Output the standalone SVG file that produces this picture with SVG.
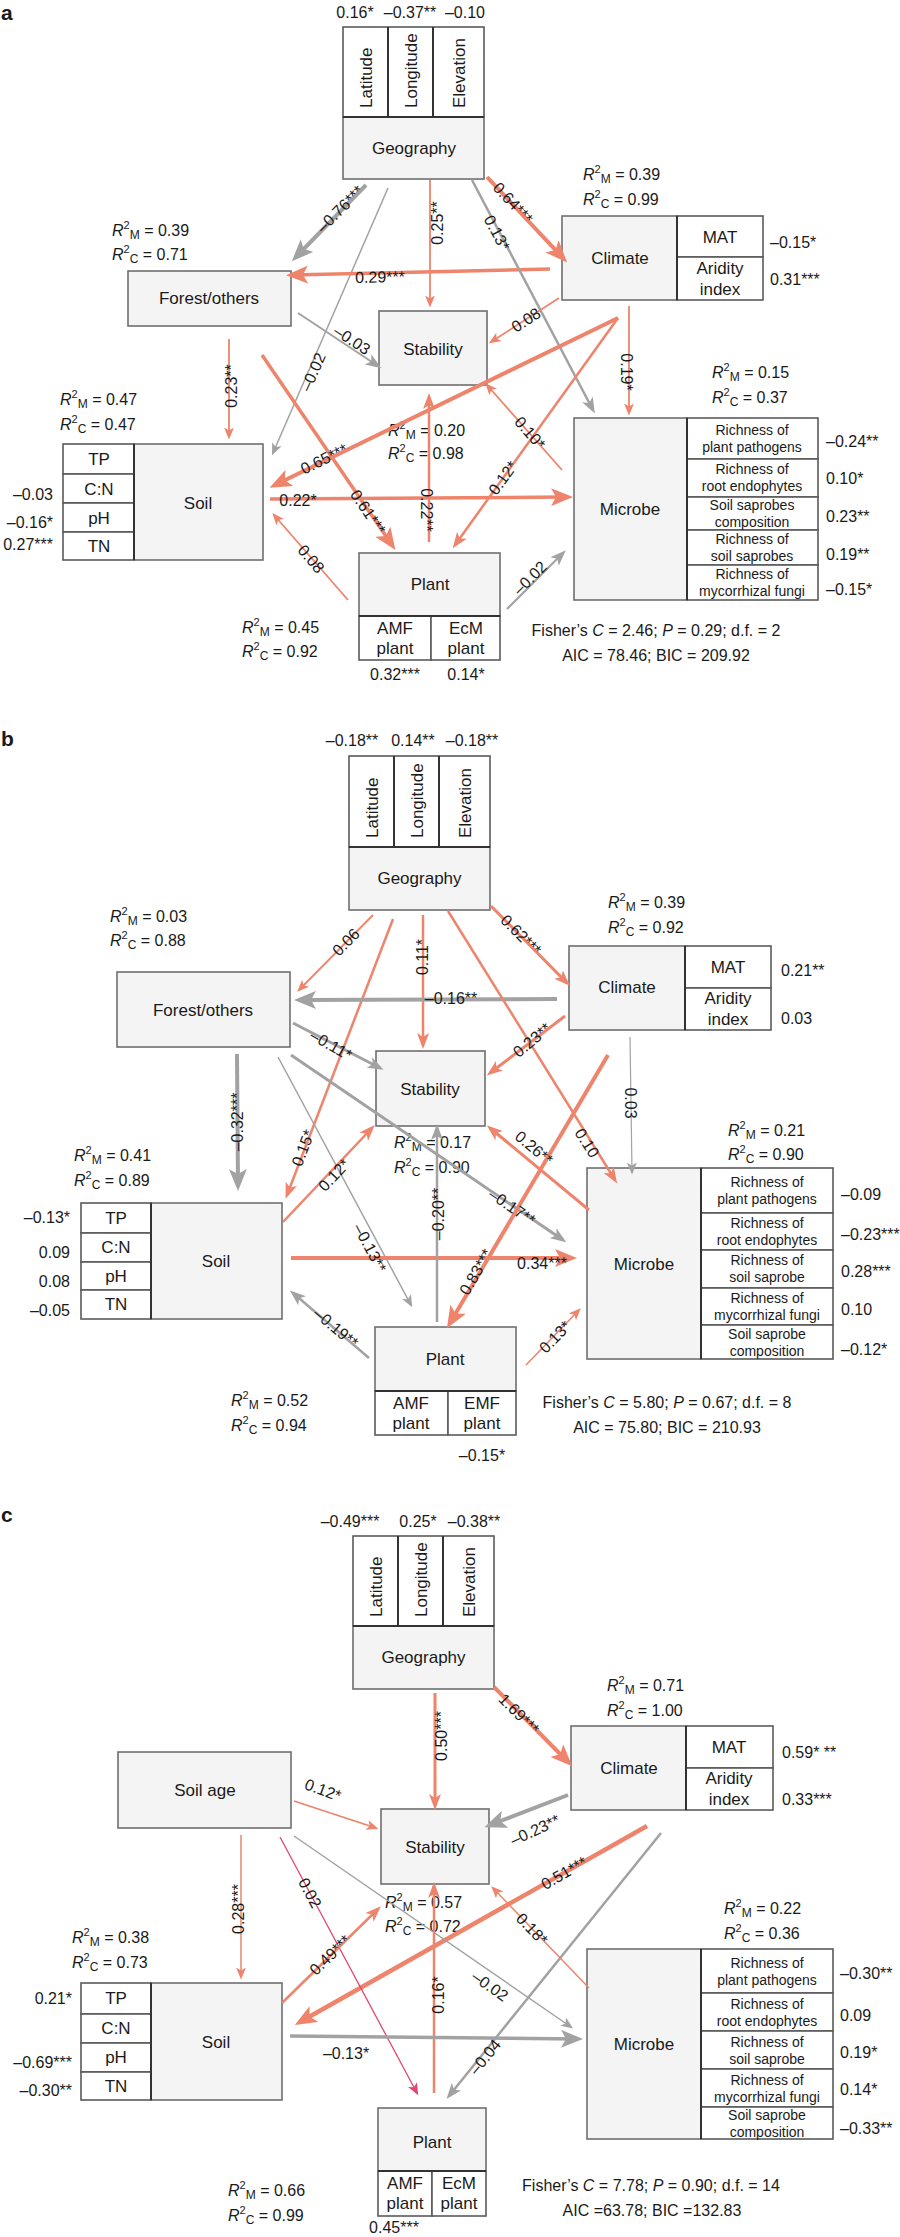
<svg xmlns="http://www.w3.org/2000/svg" width="900" height="2237" viewBox="0 0 900 2237">
<style>
text{font-family:"Liberation Sans",Arial,Helvetica,sans-serif;fill:#1a1a1a}
.n{font-size:17px;text-anchor:middle}
.v{font-size:16px}
.m{text-anchor:middle}
.e{text-anchor:end}
.s{font-size:14px;text-anchor:middle}
.q{font-size:16px}
.el{font-size:16px;text-anchor:middle}
.pl{font-size:21px;font-weight:bold}
.bx{fill:#f4f4f4;stroke:#6f6f6f;stroke-width:1.6}
.sb{fill:#fff;stroke:#5a5a5a;stroke-width:1.6}
.dv{stroke:#333;stroke-width:2;fill:none}
.r{stroke:#ee846b;fill:none}
.g{stroke:#a2a2a2;fill:none}
.p{stroke:#e2456e;fill:none}
.w1{stroke-width:1.5}
.w2{stroke-width:2.5}
.w3{stroke-width:4}
</style>
<defs>
<marker id="ra1" markerUnits="userSpaceOnUse" markerWidth="12" markerHeight="10" refX="9.5" refY="5" orient="auto"><path d="M0,0 L12,5 L0,10 L3,5 Z" fill="#ee846b"/></marker>
<marker id="ra2" markerUnits="userSpaceOnUse" markerWidth="16" markerHeight="12" refX="12" refY="6" orient="auto"><path d="M0,0 L16,6 L0,12 L4,6 Z" fill="#ee846b"/></marker>
<marker id="ra3" markerUnits="userSpaceOnUse" markerWidth="22" markerHeight="18" refX="16" refY="9" orient="auto"><path d="M0,0 L22,9 L0,18 L5,9 Z" fill="#ee846b"/></marker>
<marker id="ga1" markerUnits="userSpaceOnUse" markerWidth="12" markerHeight="10" refX="9.5" refY="5" orient="auto"><path d="M0,0 L12,5 L0,10 L3,5 Z" fill="#a2a2a2"/></marker>
<marker id="ga2" markerUnits="userSpaceOnUse" markerWidth="16" markerHeight="12" refX="12" refY="6" orient="auto"><path d="M0,0 L16,6 L0,12 L4,6 Z" fill="#a2a2a2"/></marker>
<marker id="ga3" markerUnits="userSpaceOnUse" markerWidth="22" markerHeight="18" refX="16" refY="9" orient="auto"><path d="M0,0 L22,9 L0,18 L5,9 Z" fill="#a2a2a2"/></marker>
<marker id="pa1" markerUnits="userSpaceOnUse" markerWidth="12" markerHeight="10" refX="9.5" refY="5" orient="auto"><path d="M0,0 L12,5 L0,10 L3,5 Z" fill="#e2456e"/></marker>
</defs>
<rect width="900" height="2237" fill="#fff"/>

<text class="pl" x="1" y="20">a</text>
<text class="pl" x="1" y="746">b</text>
<text class="pl" x="1" y="1522">c</text>

<!-- ================= PANEL A NODES ================= -->
<g id="a-geography">
<rect class="sb" x="343" y="27" width="141" height="90"/>
<line class="dv" x1="388" y1="27" x2="388" y2="117"/><line class="dv" x1="433" y1="27" x2="433" y2="117"/>
<rect class="bx" x="343" y="117" width="141" height="62"/>
<line class="dv" x1="343" y1="117" x2="484" y2="117"/>
<text class="n" style="text-anchor:start" transform="translate(366,108) rotate(-90)" y="6">Latitude</text>
<text class="n" style="text-anchor:start" transform="translate(411,108) rotate(-90)" y="6">Longitude</text>
<text class="n" style="text-anchor:start" transform="translate(459,108) rotate(-90)" y="6">Elevation</text>
<text class="n" x="414" y="154">Geography</text>
<text class="v m" x="355" y="18">0.16*</text>
<text class="v m" x="410" y="18">–0.37**</text>
<text class="v m" x="465" y="18">–0.10</text>
</g>
<g id="a-forest">
<rect class="bx" x="128" y="271" width="163" height="55"/>
<text class="n" x="209" y="304">Forest/others</text>
<text class="q" x="112" y="236"><tspan font-style="italic">R</tspan><tspan font-size="11" dy="-7">2</tspan><tspan font-size="12" dy="10">M</tspan><tspan dy="-3"> = 0.39</tspan></text>
<text class="q" x="112" y="260"><tspan font-style="italic">R</tspan><tspan font-size="11" dy="-7">2</tspan><tspan font-size="12" dy="10">C</tspan><tspan dy="-3"> = 0.71</tspan></text>
</g>
<g id="a-stability">
<rect class="bx" x="379" y="311" width="108" height="74"/>
<text class="n" x="433" y="355">Stability</text>
<text class="q" x="388" y="436"><tspan font-style="italic">R</tspan><tspan font-size="11" dy="-7">2</tspan><tspan font-size="12" dy="10">M</tspan><tspan dy="-3"> = 0.20</tspan></text>
<text class="q" x="388" y="459"><tspan font-style="italic">R</tspan><tspan font-size="11" dy="-7">2</tspan><tspan font-size="12" dy="10">C</tspan><tspan dy="-3"> = 0.98</tspan></text>
</g>
<g id="a-climate">
<rect class="bx" x="562" y="216" width="115" height="84"/>
<rect class="sb" x="677" y="216" width="86" height="41"/>
<rect class="sb" x="677" y="257" width="86" height="43"/>
<line class="dv" x1="677" y1="216" x2="677" y2="300"/>
<text class="n" x="620" y="264">Climate</text>
<text class="n" x="720" y="243">MAT</text>
<text class="n" x="720" y="274">Aridity</text>
<text class="n" x="720" y="295">index</text>
<text class="v" x="770" y="248">–0.15*</text>
<text class="v" x="770" y="285">0.31***</text>
<text class="q" x="583" y="180"><tspan font-style="italic">R</tspan><tspan font-size="11" dy="-7">2</tspan><tspan font-size="12" dy="10">M</tspan><tspan dy="-3"> = 0.39</tspan></text>
<text class="q" x="583" y="205"><tspan font-style="italic">R</tspan><tspan font-size="11" dy="-7">2</tspan><tspan font-size="12" dy="10">C</tspan><tspan dy="-3"> = 0.99</tspan></text>
</g>
<g id="a-microbe">
<rect class="bx" x="574" y="418" width="113" height="182"/>
<rect class="sb" x="687" y="418" width="131" height="41"/>
<rect class="sb" x="687" y="459" width="131" height="38"/>
<rect class="sb" x="687" y="497" width="131" height="33"/>
<rect class="sb" x="687" y="530" width="131" height="35"/>
<rect class="sb" x="687" y="565" width="131" height="35"/>
<line class="dv" x1="687" y1="418" x2="687" y2="600"/>
<text class="n" x="630" y="515">Microbe</text>
<text class="s" x="752" y="435">Richness of</text><text class="s" x="752" y="452">plant pathogens</text>
<text class="s" x="752" y="474">Richness of</text><text class="s" x="752" y="491">root endophytes</text>
<text class="s" x="752" y="510">Soil saprobes</text><text class="s" x="752" y="527">composition</text>
<text class="s" x="752" y="544">Richness of</text><text class="s" x="752" y="561">soil saprobes</text>
<text class="s" x="752" y="579">Richness of</text><text class="s" x="752" y="596">mycorrhizal fungi</text>
<text class="v" x="826" y="447">–0.24**</text>
<text class="v" x="826" y="484">0.10*</text>
<text class="v" x="826" y="522">0.23**</text>
<text class="v" x="826" y="560">0.19**</text>
<text class="v" x="826" y="595">–0.15*</text>
<text class="q" x="712" y="378"><tspan font-style="italic">R</tspan><tspan font-size="11" dy="-7">2</tspan><tspan font-size="12" dy="10">M</tspan><tspan dy="-3"> = 0.15</tspan></text>
<text class="q" x="712" y="403"><tspan font-style="italic">R</tspan><tspan font-size="11" dy="-7">2</tspan><tspan font-size="12" dy="10">C</tspan><tspan dy="-3"> = 0.37</tspan></text>
</g>
<g id="a-soil">
<rect class="bx" x="134" y="444" width="129" height="116"/>
<rect class="sb" x="63" y="444" width="71" height="30"/>
<rect class="sb" x="63" y="474" width="71" height="29"/>
<rect class="sb" x="63" y="503" width="71" height="29"/>
<rect class="sb" x="63" y="532" width="71" height="28"/>
<line class="dv" x1="134" y1="444" x2="134" y2="560"/>
<text class="n" x="198" y="509">Soil</text>
<text class="n" x="99" y="465">TP</text>
<text class="n" x="99" y="495">C:N</text>
<text class="n" x="99" y="524">pH</text>
<text class="n" x="99" y="552">TN</text>
<text class="v e" x="53" y="500">–0.03</text>
<text class="v e" x="53" y="528">–0.16*</text>
<text class="v e" x="53" y="550">0.27***</text>
<text class="q" x="60" y="405"><tspan font-style="italic">R</tspan><tspan font-size="11" dy="-7">2</tspan><tspan font-size="12" dy="10">M</tspan><tspan dy="-3"> = 0.47</tspan></text>
<text class="q" x="60" y="430"><tspan font-style="italic">R</tspan><tspan font-size="11" dy="-7">2</tspan><tspan font-size="12" dy="10">C</tspan><tspan dy="-3"> = 0.47</tspan></text>
</g>
<g id="a-plant">
<rect class="bx" x="359" y="553" width="141" height="63"/>
<rect class="sb" x="359" y="616" width="72" height="44"/>
<rect class="sb" x="431" y="616" width="69" height="44"/>
<line class="dv" x1="359" y1="616" x2="500" y2="616"/>
<text class="n" x="430" y="590">Plant</text>
<text class="n" x="395" y="634">AMF</text><text class="n" x="395" y="654">plant</text>
<text class="n" x="466" y="634">EcM</text><text class="n" x="466" y="654">plant</text>
<text class="v m" x="395" y="680">0.32***</text>
<text class="v m" x="466" y="680">0.14*</text>
<text class="q" x="242" y="633"><tspan font-style="italic">R</tspan><tspan font-size="11" dy="-7">2</tspan><tspan font-size="12" dy="10">M</tspan><tspan dy="-3"> = 0.45</tspan></text>
<text class="q" x="242" y="657"><tspan font-style="italic">R</tspan><tspan font-size="11" dy="-7">2</tspan><tspan font-size="12" dy="10">C</tspan><tspan dy="-3"> = 0.92</tspan></text>
</g>
<g id="a-fit">
<text class="v m" x="656" y="636">Fisher&#8217;s <tspan font-style="italic">C</tspan> = 2.46; <tspan font-style="italic">P</tspan> = 0.29; d.f. = 2</text>
<text class="v m" x="656" y="661">AIC = 78.46; BIC = 209.92</text>
</g>

<!-- ================= PANEL B NODES ================= -->
<g id="b-geography">
<rect class="sb" x="349" y="756" width="141" height="91"/>
<line class="dv" x1="394" y1="756" x2="394" y2="847"/><line class="dv" x1="439" y1="756" x2="439" y2="847"/>
<rect class="bx" x="349" y="847" width="141" height="63"/>
<line class="dv" x1="349" y1="847" x2="490" y2="847"/>
<text class="n" style="text-anchor:start" transform="translate(371.5,838) rotate(-90)" y="6">Latitude</text>
<text class="n" style="text-anchor:start" transform="translate(416.5,838) rotate(-90)" y="6">Longitude</text>
<text class="n" style="text-anchor:start" transform="translate(464.5,838) rotate(-90)" y="6">Elevation</text>
<text class="n" x="419.5" y="884">Geography</text>
<text class="v m" x="352" y="746">–0.18**</text>
<text class="v m" x="413" y="746">0.14**</text>
<text class="v m" x="472" y="746">–0.18**</text>
</g>
<g id="b-forest">
<rect class="bx" x="117" y="972" width="173" height="75"/>
<text class="n" x="203" y="1016">Forest/others</text>
<text class="q" x="110" y="922"><tspan font-style="italic">R</tspan><tspan font-size="11" dy="-7">2</tspan><tspan font-size="12" dy="10">M</tspan><tspan dy="-3"> = 0.03</tspan></text>
<text class="q" x="110" y="946"><tspan font-style="italic">R</tspan><tspan font-size="11" dy="-7">2</tspan><tspan font-size="12" dy="10">C</tspan><tspan dy="-3"> = 0.88</tspan></text>
</g>
<g id="b-stability">
<rect class="bx" x="376" y="1051" width="109" height="75"/>
<text class="n" x="430" y="1095">Stability</text>
<text class="q" x="394" y="1148"><tspan font-style="italic">R</tspan><tspan font-size="11" dy="-7">2</tspan><tspan font-size="12" dy="10">M</tspan><tspan dy="-3"> = 0.17</tspan></text>
<text class="q" x="394" y="1173"><tspan font-style="italic">R</tspan><tspan font-size="11" dy="-7">2</tspan><tspan font-size="12" dy="10">C</tspan><tspan dy="-3"> = 0.90</tspan></text>
</g>
<g id="b-climate">
<rect class="bx" x="569" y="946" width="116" height="84"/>
<rect class="sb" x="685" y="946" width="86" height="42"/>
<rect class="sb" x="685" y="988" width="86" height="42"/>
<line class="dv" x1="685" y1="946" x2="685" y2="1030"/>
<text class="n" x="627" y="993">Climate</text>
<text class="n" x="728" y="973">MAT</text>
<text class="n" x="728" y="1004">Aridity</text>
<text class="n" x="728" y="1025">index</text>
<text class="v" x="781" y="976">0.21**</text>
<text class="v" x="781" y="1024">0.03</text>
<text class="q" x="608" y="908"><tspan font-style="italic">R</tspan><tspan font-size="11" dy="-7">2</tspan><tspan font-size="12" dy="10">M</tspan><tspan dy="-3"> = 0.39</tspan></text>
<text class="q" x="608" y="933"><tspan font-style="italic">R</tspan><tspan font-size="11" dy="-7">2</tspan><tspan font-size="12" dy="10">C</tspan><tspan dy="-3"> = 0.92</tspan></text>
</g>
<g id="b-microbe">
<rect class="bx" x="587" y="1168" width="114" height="191"/>
<rect class="sb" x="701" y="1168" width="132" height="45"/>
<rect class="sb" x="701" y="1213" width="132" height="37"/>
<rect class="sb" x="701" y="1250" width="132" height="38"/>
<rect class="sb" x="701" y="1288" width="132" height="37"/>
<rect class="sb" x="701" y="1325" width="132" height="34"/>
<line class="dv" x1="701" y1="1168" x2="701" y2="1359"/>
<text class="n" x="644" y="1270">Microbe</text>
<text class="s" x="767" y="1187">Richness of</text><text class="s" x="767" y="1204">plant pathogens</text>
<text class="s" x="767" y="1228">Richness of</text><text class="s" x="767" y="1245">root endophytes</text>
<text class="s" x="767" y="1265">Richness of</text><text class="s" x="767" y="1282">soil saprobe</text>
<text class="s" x="767" y="1303">Richness of</text><text class="s" x="767" y="1320">mycorrhizal fungi</text>
<text class="s" x="767" y="1339">Soil saprobe</text><text class="s" x="767" y="1356">composition</text>
<text class="v" x="841" y="1200">–0.09</text>
<text class="v" x="841" y="1240">–0.23***</text>
<text class="v" x="841" y="1277">0.28***</text>
<text class="v" x="841" y="1315">0.10</text>
<text class="v" x="841" y="1355">–0.12*</text>
<text class="q" x="728" y="1136"><tspan font-style="italic">R</tspan><tspan font-size="11" dy="-7">2</tspan><tspan font-size="12" dy="10">M</tspan><tspan dy="-3"> = 0.21</tspan></text>
<text class="q" x="728" y="1160"><tspan font-style="italic">R</tspan><tspan font-size="11" dy="-7">2</tspan><tspan font-size="12" dy="10">C</tspan><tspan dy="-3"> = 0.90</tspan></text>
</g>
<g id="b-soil">
<rect class="bx" x="151" y="1203" width="131" height="116"/>
<rect class="sb" x="81" y="1203" width="70" height="30"/>
<rect class="sb" x="81" y="1233" width="70" height="29"/>
<rect class="sb" x="81" y="1262" width="70" height="28"/>
<rect class="sb" x="81" y="1290" width="70" height="29"/>
<line class="dv" x1="151" y1="1203" x2="151" y2="1319"/>
<text class="n" x="216" y="1267">Soil</text>
<text class="n" x="116" y="1224">TP</text>
<text class="n" x="116" y="1253">C:N</text>
<text class="n" x="116" y="1282">pH</text>
<text class="n" x="116" y="1310">TN</text>
<text class="v e" x="70" y="1223">–0.13*</text>
<text class="v e" x="70" y="1258">0.09</text>
<text class="v e" x="70" y="1287">0.08</text>
<text class="v e" x="70" y="1316">–0.05</text>
<text class="q" x="74" y="1161"><tspan font-style="italic">R</tspan><tspan font-size="11" dy="-7">2</tspan><tspan font-size="12" dy="10">M</tspan><tspan dy="-3"> = 0.41</tspan></text>
<text class="q" x="74" y="1186"><tspan font-style="italic">R</tspan><tspan font-size="11" dy="-7">2</tspan><tspan font-size="12" dy="10">C</tspan><tspan dy="-3"> = 0.89</tspan></text>
</g>
<g id="b-plant">
<rect class="bx" x="375" y="1327" width="141" height="64"/>
<rect class="sb" x="375" y="1391" width="73" height="44"/>
<rect class="sb" x="448" y="1391" width="68" height="44"/>
<line class="dv" x1="375" y1="1391" x2="516" y2="1391"/>
<text class="n" x="445" y="1365">Plant</text>
<text class="n" x="411" y="1409">AMF</text><text class="n" x="411" y="1429">plant</text>
<text class="n" x="482" y="1409">EMF</text><text class="n" x="482" y="1429">plant</text>
<text class="v m" x="482" y="1461">–0.15*</text>
<text class="q" x="231" y="1406"><tspan font-style="italic">R</tspan><tspan font-size="11" dy="-7">2</tspan><tspan font-size="12" dy="10">M</tspan><tspan dy="-3"> = 0.52</tspan></text>
<text class="q" x="231" y="1431"><tspan font-style="italic">R</tspan><tspan font-size="11" dy="-7">2</tspan><tspan font-size="12" dy="10">C</tspan><tspan dy="-3"> = 0.94</tspan></text>
</g>
<g id="b-fit">
<text class="v m" x="667" y="1408">Fisher&#8217;s <tspan font-style="italic">C</tspan> = 5.80; <tspan font-style="italic">P</tspan> = 0.67; d.f. = 8</text>
<text class="v m" x="667" y="1433">AIC = 75.80; BIC = 210.93</text>
</g>

<!-- ================= PANEL C NODES ================= -->
<g id="c-geography">
<rect class="sb" x="353" y="1536" width="141" height="90"/>
<line class="dv" x1="398" y1="1536" x2="398" y2="1626"/><line class="dv" x1="443" y1="1536" x2="443" y2="1626"/>
<rect class="bx" x="353" y="1626" width="141" height="63"/>
<line class="dv" x1="353" y1="1626" x2="494" y2="1626"/>
<text class="n" style="text-anchor:start" transform="translate(375.5,1617) rotate(-90)" y="6">Latitude</text>
<text class="n" style="text-anchor:start" transform="translate(420.5,1617) rotate(-90)" y="6">Longitude</text>
<text class="n" style="text-anchor:start" transform="translate(468.5,1617) rotate(-90)" y="6">Elevation</text>
<text class="n" x="423.5" y="1663">Geography</text>
<text class="v m" x="350" y="1527">–0.49***</text>
<text class="v m" x="418" y="1527">0.25*</text>
<text class="v m" x="474" y="1527">–0.38**</text>
</g>
<g id="c-soilage">
<rect class="bx" x="118" y="1752" width="173" height="76"/>
<text class="n" x="205" y="1796">Soil age</text>
</g>
<g id="c-stability">
<rect class="bx" x="381" y="1809" width="108" height="75"/>
<text class="n" x="435" y="1853">Stability</text>
<text class="q" x="385" y="1908"><tspan font-style="italic">R</tspan><tspan font-size="11" dy="-7">2</tspan><tspan font-size="12" dy="10">M</tspan><tspan dy="-3"> = 0.57</tspan></text>
<text class="q" x="385" y="1932"><tspan font-style="italic">R</tspan><tspan font-size="11" dy="-7">2</tspan><tspan font-size="12" dy="10">C</tspan><tspan dy="-3"> = 0.72</tspan></text>
</g>
<g id="c-climate">
<rect class="bx" x="571" y="1726" width="115" height="84"/>
<rect class="sb" x="686" y="1726" width="87" height="42"/>
<rect class="sb" x="686" y="1768" width="87" height="42"/>
<line class="dv" x1="686" y1="1726" x2="686" y2="1810"/>
<text class="n" x="629" y="1774">Climate</text>
<text class="n" x="729" y="1753">MAT</text>
<text class="n" x="729" y="1784">Aridity</text>
<text class="n" x="729" y="1805">index</text>
<text class="v" x="782" y="1758">0.59* **</text>
<text class="v" x="782" y="1805">0.33***</text>
<text class="q" x="607" y="1691"><tspan font-style="italic">R</tspan><tspan font-size="11" dy="-7">2</tspan><tspan font-size="12" dy="10">M</tspan><tspan dy="-3"> = 0.71</tspan></text>
<text class="q" x="607" y="1716"><tspan font-style="italic">R</tspan><tspan font-size="11" dy="-7">2</tspan><tspan font-size="12" dy="10">C</tspan><tspan dy="-3"> = 1.00</tspan></text>
</g>
<g id="c-microbe">
<rect class="bx" x="587" y="1949" width="114" height="190"/>
<rect class="sb" x="701" y="1949" width="132" height="44"/>
<rect class="sb" x="701" y="1993" width="132" height="38"/>
<rect class="sb" x="701" y="2031" width="132" height="38"/>
<rect class="sb" x="701" y="2069" width="132" height="38"/>
<rect class="sb" x="701" y="2107" width="132" height="32"/>
<line class="dv" x1="701" y1="1949" x2="701" y2="2139"/>
<text class="n" x="644" y="2050">Microbe</text>
<text class="s" x="767" y="1968">Richness of</text><text class="s" x="767" y="1985">plant pathogens</text>
<text class="s" x="767" y="2009">Richness of</text><text class="s" x="767" y="2026">root endophytes</text>
<text class="s" x="767" y="2047">Richness of</text><text class="s" x="767" y="2064">soil saprobe</text>
<text class="s" x="767" y="2085">Richness of</text><text class="s" x="767" y="2102">mycorrhizal fungi</text>
<text class="s" x="767" y="2120">Soil saprobe</text><text class="s" x="767" y="2137">composition</text>
<text class="v" x="840" y="1979">–0.30**</text>
<text class="v" x="840" y="2021">0.09</text>
<text class="v" x="840" y="2058">0.19*</text>
<text class="v" x="840" y="2095">0.14*</text>
<text class="v" x="840" y="2134">–0.33**</text>
<text class="q" x="724" y="1914"><tspan font-style="italic">R</tspan><tspan font-size="11" dy="-7">2</tspan><tspan font-size="12" dy="10">M</tspan><tspan dy="-3"> = 0.22</tspan></text>
<text class="q" x="724" y="1939"><tspan font-style="italic">R</tspan><tspan font-size="11" dy="-7">2</tspan><tspan font-size="12" dy="10">C</tspan><tspan dy="-3"> = 0.36</tspan></text>
</g>
<g id="c-soil">
<rect class="bx" x="151" y="1983" width="131" height="117"/>
<rect class="sb" x="81" y="1983" width="70" height="31"/>
<rect class="sb" x="81" y="2014" width="70" height="29"/>
<rect class="sb" x="81" y="2043" width="70" height="29"/>
<rect class="sb" x="81" y="2072" width="70" height="28"/>
<line class="dv" x1="151" y1="1983" x2="151" y2="2100"/>
<text class="n" x="216" y="2048">Soil</text>
<text class="n" x="116" y="2004">TP</text>
<text class="n" x="116" y="2034">C:N</text>
<text class="n" x="116" y="2063">pH</text>
<text class="n" x="116" y="2092">TN</text>
<text class="v e" x="72" y="2004">0.21*</text>
<text class="v e" x="72" y="2068">–0.69***</text>
<text class="v e" x="72" y="2096">–0.30**</text>
<text class="q" x="72" y="1943"><tspan font-style="italic">R</tspan><tspan font-size="11" dy="-7">2</tspan><tspan font-size="12" dy="10">M</tspan><tspan dy="-3"> = 0.38</tspan></text>
<text class="q" x="72" y="1968"><tspan font-style="italic">R</tspan><tspan font-size="11" dy="-7">2</tspan><tspan font-size="12" dy="10">C</tspan><tspan dy="-3"> = 0.73</tspan></text>
</g>
<g id="c-plant">
<rect class="bx" x="378" y="2108" width="108" height="63"/>
<rect class="sb" x="378" y="2171" width="54" height="45"/>
<rect class="sb" x="432" y="2171" width="54" height="45"/>
<line class="dv" x1="378" y1="2171" x2="486" y2="2171"/>
<text class="n" x="432" y="2148">Plant</text>
<text class="n" x="405" y="2189">AMF</text><text class="n" x="405" y="2209">plant</text>
<text class="n" x="459" y="2189">EcM</text><text class="n" x="459" y="2209">plant</text>
<text class="v m" x="394" y="2233">0.45***</text>
<text class="q" x="228" y="2196"><tspan font-style="italic">R</tspan><tspan font-size="11" dy="-7">2</tspan><tspan font-size="12" dy="10">M</tspan><tspan dy="-3"> = 0.66</tspan></text>
<text class="q" x="228" y="2221"><tspan font-style="italic">R</tspan><tspan font-size="11" dy="-7">2</tspan><tspan font-size="12" dy="10">C</tspan><tspan dy="-3"> = 0.99</tspan></text>
</g>
<g id="c-fit">
<text class="v m" x="651" y="2191">Fisher&#8217;s <tspan font-style="italic">C</tspan> = 7.78; <tspan font-style="italic">P</tspan> = 0.90; d.f. = 14</text>
<text class="v m" x="652" y="2216">AIC =63.78; BIC =132.83</text>
</g>

<!-- ================= CONNECTORS ================= -->
<g id="connectors">
<!-- panel a -->
<path class="g w3" d="M366,185 L296,257" marker-end="url(#ga3)"/>
<path class="g" stroke-width="1.5" d="M388,188 L273,453" marker-end="url(#ga1)"/>
<path class="r" stroke-width="1.8" d="M430,180 L430,305" marker-end="url(#ra1)"/>
<path class="r" stroke-width="3.5" d="M550,269 L292,275" marker-end="url(#ra3)"/>
<path class="r w3" d="M487,177 L563,258" marker-end="url(#ra3)"/>
<path class="g w2" d="M472,180 L593,410" marker-end="url(#ga2)"/>
<path class="g" stroke-width="2" d="M298,313 L378,366" marker-end="url(#ga2)"/>
<path class="r" stroke-width="1.8" d="M559,298 L491,342" marker-end="url(#ra1)"/>
<path class="r" stroke-width="1.8" d="M629,306 L629,413" marker-end="url(#ra1)"/>
<path class="r w3" d="M618,318 L275,485" marker-end="url(#ra3)"/>
<path class="r w2" d="M618,318 L455,545" marker-end="url(#ra2)"/>
<path class="r w2" d="M429,542 L429,397" marker-end="url(#ra2)"/>
<path class="r" stroke-width="1.8" d="M562,470 L487,385" marker-end="url(#ra1)"/>
<path class="r" stroke-width="3.5" d="M270,499 L567,497" marker-end="url(#ra3)"/>
<path class="r" stroke-width="3.5" d="M262,355 L392,545" marker-end="url(#ra3)"/>
<path class="r" stroke-width="1.8" d="M348,600 L274,515" marker-end="url(#ra1)"/>
<path class="g" stroke-width="2" d="M507,609 L563,553" marker-end="url(#ga2)"/>
<path class="r" stroke-width="1.8" d="M229,339 L229,437" marker-end="url(#ra1)"/>
<text class="el" transform="translate(340,209) rotate(-45)" y="5.5">–0.76***</text>
<text class="el" transform="translate(313,372) rotate(-66)" y="5.5">–0.02</text>
<text class="el" transform="translate(437,223) rotate(-90)" y="5.5">0.25**</text>
<text class="el" transform="translate(380,277) rotate(-1)" y="5.5">0.29***</text>
<text class="el" transform="translate(513,203) rotate(47)" y="5.5">0.64***</text>
<text class="el" transform="translate(497,233) rotate(62)" y="5.5">0.13*</text>
<text class="el" transform="translate(352,340) rotate(33)" y="5.5">–0.03</text>
<text class="el" transform="translate(526,320) rotate(-33)" y="5.5">0.08</text>
<text class="el" transform="translate(626,372) rotate(90)" y="5.5">0.19*</text>
<text class="el" transform="translate(324,459) rotate(-26)" y="5.5">0.65***</text>
<text class="el" transform="translate(503,478) rotate(-54)" y="5.5">0.12*</text>
<text class="el" transform="translate(426,510) rotate(90)" y="5.5">0.22**</text>
<text class="el" transform="translate(530,433) rotate(49)" y="5.5">0.10*</text>
<text class="el" transform="translate(298,500)" y="5.5">0.22*</text>
<text class="el" transform="translate(368,512) rotate(56)" y="5.5">0.61***</text>
<text class="el" transform="translate(311,559) rotate(49)" y="5.5">0.08</text>
<text class="el" transform="translate(530,578) rotate(-45)" y="5.5">–0.02</text>
<text class="el" transform="translate(231,386) rotate(-90)" y="5.5">0.23**</text>

<!-- panel b -->
<path class="r" stroke-width="1.8" d="M373,915 L299,990" marker-end="url(#ra1)"/>
<path class="r w2" d="M393,919 L287,1195" marker-end="url(#ra2)"/>
<path class="r w2" d="M423,915 L423,1045" marker-end="url(#ra2)"/>
<path class="g w3" d="M557,999 L300,1000" marker-end="url(#ga3)"/>
<path class="r" stroke-width="3" d="M491,906 L567,983" marker-end="url(#ra2)"/>
<path class="r w2" d="M448,911 L615,1180" marker-end="url(#ra2)"/>
<path class="g" stroke-width="3" d="M293,1023 L380,1068" marker-end="url(#ga2)"/>
<path class="g" stroke-width="3" d="M291,1055 L563,1240" marker-end="url(#ga2)"/>
<path class="g" stroke-width="1.5" d="M278,1057 L411,1305" marker-end="url(#ga1)"/>
<path class="g w3" d="M237,1054 L238,1185" marker-end="url(#ga3)"/>
<path class="r w2" d="M283,1222 L372,1128" marker-end="url(#ra2)"/>
<path class="r w3" d="M291,1258 L571,1258" marker-end="url(#ra3)"/>
<path class="g w2" d="M437,1322 L437,1128" marker-end="url(#ga2)"/>
<path class="g w2" d="M369,1358 L293,1293" marker-end="url(#ga2)"/>
<path class="r w3" d="M608,1055 L450,1323" marker-end="url(#ra3)"/>
<path class="r" stroke-width="3" d="M589,1210 L490,1128" marker-end="url(#ra2)"/>
<path class="r" stroke-width="3" d="M565,1016 L490,1073" marker-end="url(#ra2)"/>
<path class="g" stroke-width="1.2" d="M630,1037 L632,1172" marker-end="url(#ga1)"/>
<path class="r" stroke-width="1.5" d="M526,1365 L579,1310" marker-end="url(#ra1)"/>
<text class="el" transform="translate(346,942) rotate(-45)" y="5.5">0.06</text>
<text class="el" transform="translate(303,1148) rotate(-69)" y="5.5">0.15*</text>
<text class="el" transform="translate(422,957) rotate(-90)" y="5.5">0.11*</text>
<text class="el" transform="translate(451,998)" y="5.5">–0.16**</text>
<text class="el" transform="translate(521,935) rotate(45)" y="5.5">0.62***</text>
<text class="el" transform="translate(587,1143) rotate(58)" y="5.5">0.10</text>
<text class="el" transform="translate(331,1045) rotate(30)" y="5.5">–0.11*</text>
<text class="el" transform="translate(512,1207) rotate(34)" y="5.5">–0.17**</text>
<text class="el" transform="translate(370,1248) rotate(62)" y="5.5">–0.13**</text>
<text class="el" transform="translate(237,1122) rotate(-90)" y="5.5">–0.32***</text>
<text class="el" transform="translate(334,1175) rotate(-47)" y="5.5">0.12*</text>
<text class="el" transform="translate(542,1263)" y="5.5">0.34***</text>
<text class="el" transform="translate(438,1214) rotate(-90)" y="5.5">–0.20**</text>
<text class="el" transform="translate(336,1328) rotate(40)" y="5.5">–0.19**</text>
<text class="el" transform="translate(476,1272) rotate(-60)" y="5.5">0.83***</text>
<text class="el" transform="translate(534,1148) rotate(40)" y="5.5">0.26**</text>
<text class="el" transform="translate(532,1040) rotate(-40)" y="5.5">0.23**</text>
<text class="el" transform="translate(630,1103) rotate(90)" y="5.5">0.03</text>
<text class="el" transform="translate(555,1337) rotate(-46)" y="5.5">0.13*</text>

<!-- panel c -->
<path class="r" stroke-width="3" d="M435,1693 L435,1806" marker-end="url(#ra2)"/>
<path class="r w3" d="M494,1687 L568,1762" marker-end="url(#ra3)"/>
<path class="r" stroke-width="1.8" d="M294,1801 L376,1828" marker-end="url(#ra1)"/>
<path class="g w3" d="M568,1795 L490,1825" marker-end="url(#ga3)"/>
<path class="r" stroke-width="4.5" d="M647,1826 L300,2022" marker-end="url(#ra3)"/>
<path class="g w2" d="M661,1833 L449,2096" marker-end="url(#ga2)"/>
<path class="r" stroke-width="1.5" d="M241,1835 L241,1977" marker-end="url(#ra1)"/>
<path class="p" stroke-width="1.3" d="M280,1837 L417,2093" marker-end="url(#pa1)"/>
<path class="g" stroke-width="1.5" d="M294,1836 L571,2027" marker-end="url(#ga1)"/>
<path class="r w2" d="M434,2093 L434,1886" marker-end="url(#ra2)"/>
<path class="r w2" d="M282,2003 L378,1909" marker-end="url(#ra2)"/>
<path class="r" stroke-width="1.5" d="M589,1988 L493,1888" marker-end="url(#ra1)"/>
<path class="g" stroke-width="3.5" d="M290,2036 L577,2039" marker-end="url(#ga3)"/>
<text class="el" transform="translate(441,1736) rotate(-90)" y="5.5">0.50***</text>
<text class="el" transform="translate(519,1714) rotate(45)" y="5.5">1.69***</text>
<text class="el" transform="translate(323,1790) rotate(20)" y="5.5">0.12*</text>
<text class="el" transform="translate(535,1830) rotate(-25)" y="5.5">–0.23**</text>
<text class="el" transform="translate(564,1873) rotate(-30)" y="5.5">0.51***</text>
<text class="el" transform="translate(485,2057) rotate(-51)" y="5.5">–0.04</text>
<text class="el" transform="translate(238,1909) rotate(-90)" y="5.5">0.28***</text>
<text class="el" transform="translate(310,1893) rotate(62)" y="5.5">0.02</text>
<text class="el" transform="translate(490,1986) rotate(35)" y="5.5">–0.02</text>
<text class="el" transform="translate(438,1995) rotate(-90)" y="5.5">0.16*</text>
<text class="el" transform="translate(330,1955) rotate(-44)" y="5.5">0.49***</text>
<text class="el" transform="translate(532,1929) rotate(46)" y="5.5">0.18*</text>
<text class="el" transform="translate(346,2053)" y="5.5">–0.13*</text>
</g>
</svg>
